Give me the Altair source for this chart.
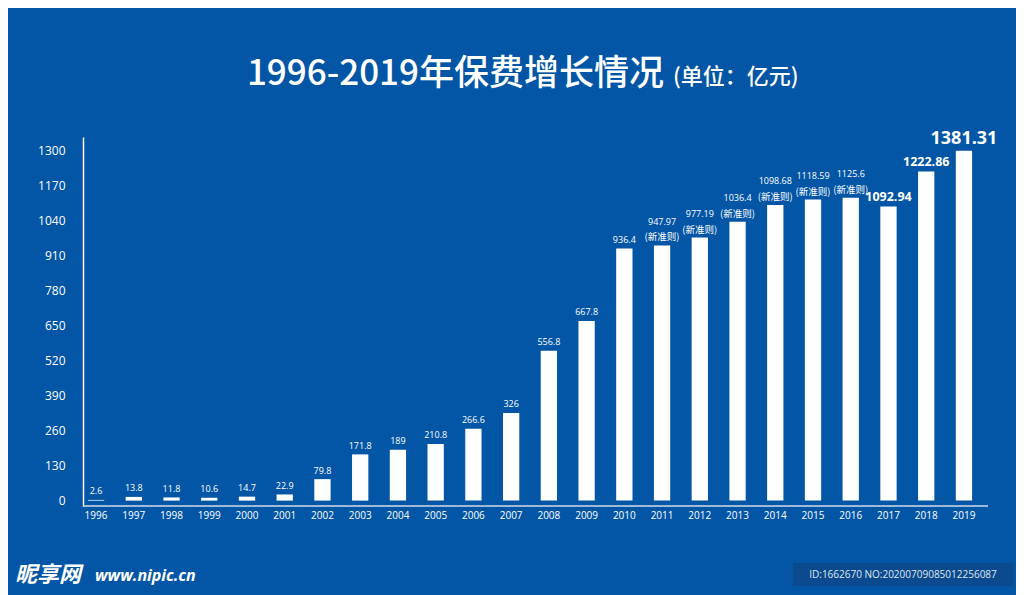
import altair as alt
import pandas as pd

# ---- data ----
years = ["1996", "1997", "1998", "1999", "2000", "2001", "2002", "2003",
         "2004", "2005", "2006", "2007", "2008", "2009", "2010", "2011",
         "2012", "2013", "2014", "2015", "2016", "2017", "2018", "2019"]
values = [2.6, 13.8, 11.8, 10.6, 14.7, 22.9, 79.8, 171.8,
          189, 210.8, 266.6, 326, 556.8, 667.8, 936.4, 947.97,
          977.19, 1036.4, 1098.68, 1118.59, 1125.6, 1092.94, 1222.86, 1381.31]
notes = ["", "", "", "", "", "", "", "",
         "", "", "", "", "", "", "", "(新准则)",
         "(新准则)", "(新准则)", "(新准则)", "(新准则)", "(新准则)", "", "", ""]
y_ticks = [0, 130, 260, 390, 520, 650, 780, 910, 1040, 1170, 1300]
title_main = "1996-2019年保费增长情况"
title_unit = "(单位：亿元)"

df = pd.DataFrame({"year": years, "value": values, "note": notes})

BG = "#0356A5"
FONT = "Open Sans"
CJK = "Noto Sans CJK SC"
W, H = 894, 369

x_axis = alt.Axis(title=None, domain=False, ticks=False, labelAngle=0,
                  labelPadding=4, labelFontSize=10, labelFont=FONT,
                  labelColor="white")
y_axis = alt.Axis(title=None, values=y_ticks, grid=False, ticks=False,
                  format="d", labelOverlap=False,
                  domainColor="white", domainWidth=1.5, labelPadding=18,
                  labelFontSize=12, labelFont=FONT, labelColor="white")
x_scale = alt.Scale(paddingInner=0.568, paddingOuter=0.13)
y_scale = alt.Scale(domain=[-20, 1351], nice=False, zero=False)

x_enc = alt.X("year:N", sort=years, scale=x_scale, axis=x_axis)
y_enc = alt.Y("top:Q", scale=y_scale, axis=y_axis)

base = alt.Chart(df).transform_calculate(
    top="min(datum.value, 1300)",
    label="toString(datum.value)"
)

bars = base.mark_bar(color="white").encode(x=x_enc, y=y_enc, y2=alt.datum(0))

# plain small value labels (no note)
small = base.transform_filter(
    "toNumber(datum.year) <= 2016 && datum.note == ''"
).mark_text(
    fontSize=9, font=FONT, baseline="bottom", dy=-3.5, color="white"
).encode(x=x_enc, y=y_enc, text="label:N")

# value labels that have a note line below them
small_top = base.transform_filter("datum.note != ''").mark_text(
    fontSize=9, font=FONT, baseline="bottom", dy=-18.5, color="white"
).encode(x=x_enc, y=y_enc, text="label:N")

note_txt = base.transform_filter("datum.note != ''").mark_text(
    fontSize=9.5, font=CJK, baseline="bottom", dy=-3, color="white"
).encode(x=x_enc, y=y_enc, text="note:N")

mid = base.transform_filter("datum.year == '2017' || datum.year == '2018'").mark_text(
    fontSize=12.5, font=FONT, fontWeight="bold", baseline="bottom", dy=-2, color="white"
).encode(x=x_enc, y=y_enc, text="label:N")

big = base.transform_filter("datum.year == '2019'").mark_text(
    fontSize=18, font=FONT, fontWeight="bold", baseline="bottom", dy=-3, color="white"
).encode(x=x_enc, y=y_enc, text="label:N")

baseline_rule = alt.Chart(pd.DataFrame({"a": [0]})).mark_rule(
    color="#cfdbea", strokeWidth=1.5
).encode(x=alt.value(0), x2=alt.value(905), y=alt.value(H))

t_main = alt.Chart(pd.DataFrame({"t": [title_main]})).mark_text(
    font=CJK, fontSize=35, fontWeight=500, color="white", align="right", baseline="middle"
).encode(x=alt.value(581), y=alt.value(-63), text="t:N")

t_unit = alt.Chart(pd.DataFrame({"t": [title_unit]})).mark_text(
    font=CJK, fontSize=22, fontWeight=500, color="white", align="left", baseline="middle"
).encode(x=alt.value(590), y=alt.value(-60), text="t:N")

wm1 = alt.Chart(pd.DataFrame({"t": ["昵享网"]})).mark_text(
    font=CJK, fontSize=22, fontWeight="bold", fontStyle="italic", color="white",
    align="left", baseline="middle"
).encode(x=alt.value(-68), y=alt.value(438), text="t:N")

wm2 = alt.Chart(pd.DataFrame({"t": ["www.nipic.cn"]})).mark_text(
    font=FONT, fontSize=16, fontWeight="bold", fontStyle="italic", color="white",
    align="left", baseline="middle"
).encode(x=alt.value(12), y=alt.value(439), text="t:N")

wm_box = alt.Chart(pd.DataFrame({"a": [0]})).mark_rect(color="#0B4A8E").encode(
    x=alt.value(710), x2=alt.value(930), y=alt.value(426), y2=alt.value(449)
)

wm3 = alt.Chart(pd.DataFrame({"t": ["ID:1662670 NO:20200709085012256087"]})).mark_text(
    font=FONT, fontSize=10, color="#dfe7f0", align="center", baseline="middle"
).encode(x=alt.value(820), y=alt.value(437.5), text="t:N")

chart = alt.layer(
    bars, small, small_top, note_txt, mid, big, baseline_rule,
    t_main, t_unit, wm1, wm2, wm_box, wm3
).properties(
    width=W, height=H,
    background=BG,
    autosize=alt.AutoSizeParams(type="none"),
    padding={"left": 75, "top": 129, "right": 39, "bottom": 89},
).configure_view(stroke=None).configure_axisY(labelOverlap=False)

chart.save("out.html", embed_options={"renderer": "svg", "actions": False})
